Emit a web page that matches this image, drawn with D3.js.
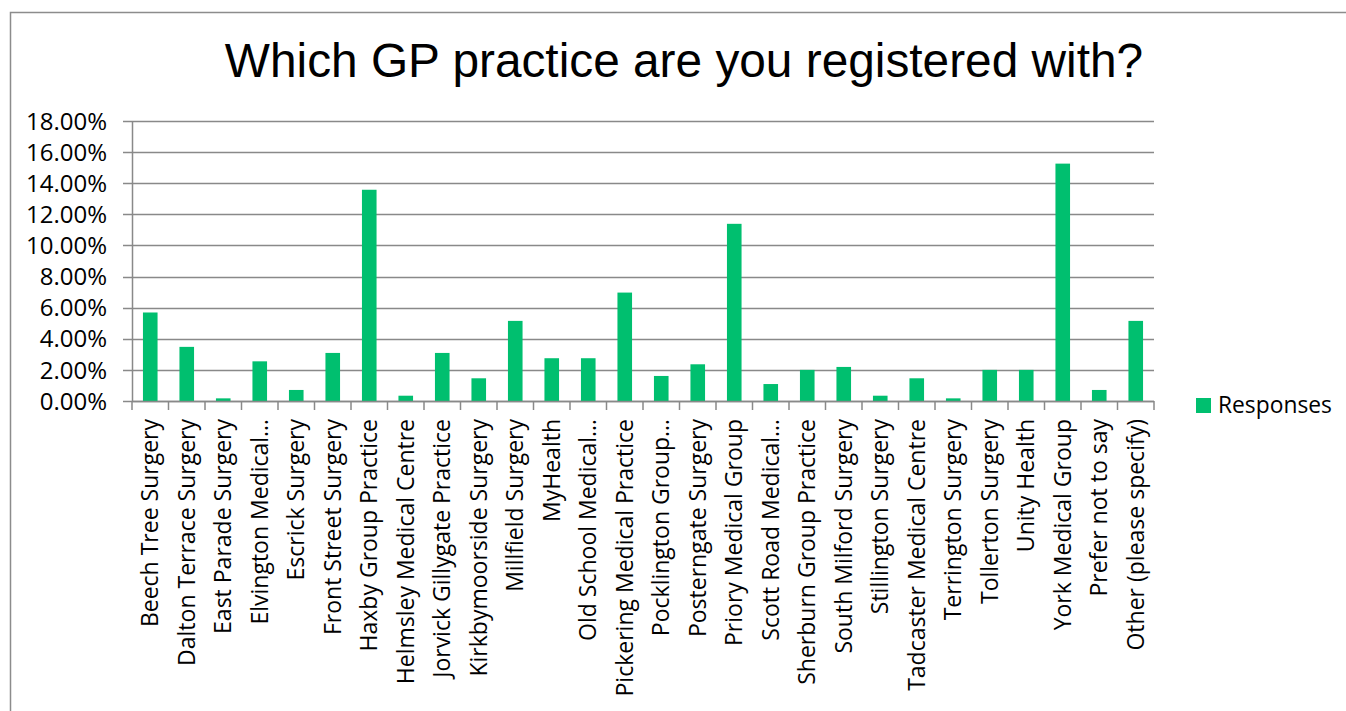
<!DOCTYPE html>
<html>
<head>
<meta charset="utf-8">
<script src="https://cdn.jsdelivr.net/npm/d3@7"></script>
<style>
  html, body { margin: 0; padding: 0; background: #fff; }
  svg { display: block; }
</style>
</head>
<body>
<svg id="chart" width="1346" height="711"></svg>
<script>
const categories = [
  "Beech Tree Surgery", "Dalton Terrace Surgery", "East Parade Surgery", "Elvington Medical…",
  "Escrick Surgery", "Front Street Surgery", "Haxby Group Practice", "Helmsley Medical Centre",
  "Jorvick Gillygate Practice", "Kirkbymoorside Surgery", "Millfield Surgery", "MyHealth",
  "Old School Medical…", "Pickering Medical Practice", "Pocklington Group…", "Posterngate Surgery",
  "Priory Medical Group", "Scott Road Medical…", "Sherburn Group Practice", "South Milford Surgery",
  "Stillington Surgery", "Tadcaster Medical Centre", "Terrington Surgery", "Tollerton Surgery",
  "Unity Health", "York Medical Group", "Prefer not to say", "Other (please specify)"
];
const responses = [
  0.0569, 0.0348, 0.0017, 0.0255,
  0.0071, 0.0309, 0.1358, 0.0034,
  0.0309, 0.0146, 0.0515, 0.0275,
  0.0275, 0.0697, 0.0161, 0.0236,
  0.1139, 0.0109, 0.0200, 0.0219,
  0.0034, 0.0146, 0.0017, 0.0200,
  0.0200, 0.1526, 0.0071, 0.0515
];
const yTicks = [0, 0.02, 0.04, 0.06, 0.08, 0.10, 0.12, 0.14, 0.16, 0.18];
const seriesName = "Responses";
const titleText = "Which GP practice are you registered with?";

(function () {
const svg = d3.select("#chart");
const barColor = "#00bf6f";
const gridColor = "#898989";
const labelFont = "'Open Sans', 'Noto Sans', sans-serif";

// outer chart border
svg.append("rect")
  .attr("x", 10.5).attr("y", 12.5)
  .attr("width", 1400).attr("height", 800)
  .attr("fill", "none").attr("stroke", "#8c8c8c").attr("stroke-width", 1.5);

const plotL = 132, plotR = 1154, plotT = 121, plotB = 401;

const x = d3.scaleBand().domain(categories).range([plotL, plotR])
  .paddingInner(0.6).paddingOuter(0.3);
const y = d3.scaleLinear().domain([0, 0.18]).range([plotB, plotT]);

// title
svg.append("text")
  .attr("x", 684).attr("y", 77)
  .attr("text-anchor", "middle")
  .attr("font-family", "'Liberation Sans', Arial, sans-serif")
  .attr("font-size", 47.8)
  .attr("fill", "#000")
  .text(titleText);

// gridlines
svg.append("g").selectAll("line").data(yTicks).join("line")
  .attr("x1", plotL - 9).attr("x2", plotR)
  .attr("y1", d => Math.round(y(d)) + 0.5).attr("y2", d => Math.round(y(d)) + 0.5)
  .attr("stroke", gridColor).attr("stroke-width", 1.5);

// y axis
const yAxis = svg.append("g")
  .attr("transform", `translate(${plotL},0)`)
  .call(d3.axisLeft(y).tickValues(yTicks).tickFormat(d3.format(".2%")).tickSize(0).tickPadding(25));
yAxis.select(".domain").attr("stroke", gridColor).attr("stroke-width", 1.5);
yAxis.selectAll("text")
  .attr("font-family", labelFont).attr("font-size", 24).attr("fill", "#000")
  .attr("dy", "0.34em");

// bars
svg.append("g").selectAll("rect").data(categories).join("rect")
  .attr("x", d => x(d))
  .attr("width", x.bandwidth())
  .attr("y", (d, i) => y(responses[i]))
  .attr("height", (d, i) => y(0) - y(responses[i]))
  .attr("fill", barColor);

// x axis baseline and category separators
svg.append("line")
  .attr("x1", plotL).attr("x2", plotR)
  .attr("y1", plotB + 0.5).attr("y2", plotB + 0.5)
  .attr("stroke", gridColor).attr("stroke-width", 1.5);
const step = x.step();
const bounds = d3.range(categories.length + 1).map(i => plotL + i * step);
svg.append("g").selectAll("line").data(bounds).join("line")
  .attr("x1", d => d).attr("x2", d => d)
  .attr("y1", plotB).attr("y2", plotB + 9)
  .attr("stroke", gridColor).attr("stroke-width", 1.5);

// category labels
svg.append("g").selectAll("text").data(categories).join("text")
  .attr("transform", d => `translate(${x(d) + x.bandwidth() / 2},${plotB + 18}) rotate(-90)`)
  .attr("text-anchor", "end")
  .attr("dy", "0.35em")
  .attr("font-family", labelFont).attr("font-size", 23).attr("fill", "#000")
  .text(d => d);

// legend
svg.append("rect")
  .attr("x", 1196).attr("y", 398).attr("width", 15).attr("height", 15)
  .attr("fill", barColor);
svg.append("text")
  .attr("x", 1218).attr("y", 405.5).attr("dy", "0.35em")
  .attr("font-family", labelFont).attr("font-size", 22.8).attr("fill", "#000")
  .text(seriesName);
})();
</script>
</body>
</html>
